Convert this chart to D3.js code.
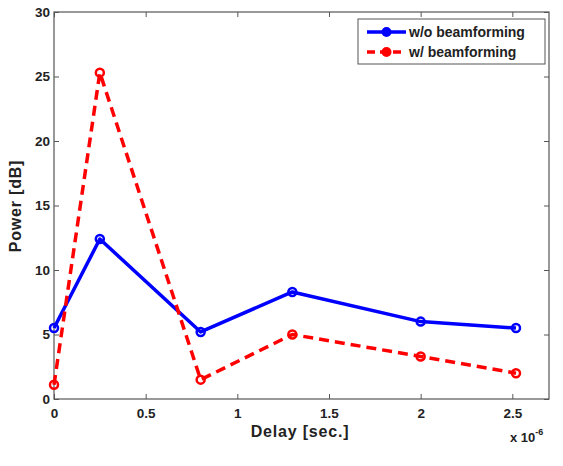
<!DOCTYPE html>
<html><head><meta charset="utf-8">
<script src="https://cdn.jsdelivr.net/npm/d3@7"></script>
<style>body{margin:0;background:#fff}svg{display:block}text{font-family:"Liberation Sans",Arial,sans-serif;font-weight:bold;fill:#222}</style>
</head><body><svg id="c" width="563" height="466"></svg>
<script>
const delays = [0, 0.25, 0.8, 1.3, 2.0, 2.52];
const withoutBF = [5.5, 12.4, 5.2, 8.3, 6.0, 5.5];
const withBF = [1.1, 25.3, 1.5, 5.0, 3.3, 2.0];
const seriesNames = ["w/o beamforming", "w/ beamforming"];
const xTicks = [0, 0.5, 1, 1.5, 2, 2.5];
const yTicks = [0, 5, 10, 15, 20, 25, 30];

const svg = d3.select("#c");
const L = 54, R = 549, T = 12, B = 399;
const x = d3.scaleLinear().domain([0, 2.7]).range([L, R]);
const y = d3.scaleLinear().domain([0, 30]).range([B, T]);
const axCol = "#555";

// frame
svg.append("rect").attr("x", L).attr("y", T).attr("width", R - L).attr("height", B - T)
  .attr("fill", "none").attr("stroke", axCol).attr("stroke-width", 1.2);

const gx = svg.append("g").attr("transform", `translate(0,${B})`)
  .call(d3.axisBottom(x).tickValues(xTicks).tickSize(-5).tickSizeOuter(0).tickPadding(9).tickFormat(d => d));
const gxt = svg.append("g").attr("transform", `translate(0,${T})`)
  .call(d3.axisTop(x).tickValues(xTicks).tickSize(-5).tickSizeOuter(0).tickFormat(""));
const gy = svg.append("g").attr("transform", `translate(${L},0)`)
  .call(d3.axisLeft(y).tickValues(yTicks).tickSize(-5).tickSizeOuter(0).tickPadding(4).tickFormat(d => d));
const gyr = svg.append("g").attr("transform", `translate(${R},0)`)
  .call(d3.axisRight(y).tickValues(yTicks).tickSize(-5).tickSizeOuter(0).tickFormat(""));
[gx, gxt, gy, gyr].forEach(g => {
  g.select(".domain").remove();
  g.selectAll("line").attr("stroke", axCol).attr("stroke-width", 1);
  g.selectAll("text").attr("font-size", 13.5).attr("font-family", "Liberation Sans, Arial, sans-serif").attr("font-weight", "bold").attr("fill", "#222");
});

svg.append("text").attr("x", 300).attr("y", 437).attr("text-anchor", "middle").attr("font-size", 16).attr("letter-spacing", 0.8).text("Delay [sec.]");
svg.append("text").attr("transform", `translate(21,${206}) rotate(-90)`).attr("text-anchor", "middle").attr("font-size", 16).attr("letter-spacing", 0.8).text("Power [dB]");
const xe = svg.append("text").attr("x", 510).attr("y", 442).attr("font-size", 13);
xe.append("tspan").text("x 10");
xe.append("tspan").attr("dy", -7).attr("font-size", 9).text("-6");

const colors = ["#0000ff", "#ff0000"];
const dashes = [null, "10,6"];
const datas = [withoutBF, withBF];
const line = d3.line().x(d => x(d[0])).y(d => y(d[1]));
datas.forEach((vals, i) => {
  const pts = delays.map((d, j) => [d, vals[j]]);
  svg.append("path").datum(pts).attr("d", line).attr("fill", "none")
    .attr("stroke", colors[i]).attr("stroke-width", 3.5).attr("stroke-dasharray", dashes[i]).attr("stroke-linejoin", "round");
  svg.selectAll(null).data(pts).enter().append("circle")
    .attr("cx", d => x(d[0])).attr("cy", d => y(d[1])).attr("r", 4)
    .attr("fill", "none").attr("stroke", colors[i]).attr("stroke-width", 2.5);
});

// legend
const lg = svg.append("g");
lg.append("rect").attr("x", 358).attr("y", 19).attr("width", 187).attr("height", 45)
  .attr("fill", "#fff").attr("stroke", axCol).attr("stroke-width", 1);
seriesNames.forEach((n, i) => {
  const yy = 32 + i * 20;
  lg.append("line").attr("x1", 367).attr("x2", 406).attr("y1", yy).attr("y2", yy)
    .attr("stroke", colors[i]).attr("stroke-width", 3.5).attr("stroke-dasharray", i ? "8,5" : null);
  lg.append("circle").attr("cx", 386.5).attr("cy", yy).attr("r", 4).attr("fill", colors[i]).attr("stroke", colors[i]).attr("stroke-width", 2);
  lg.append("text").attr("x", 409).attr("y", yy + 5).attr("font-size", 14).text(n);
});
</script></body></html>
